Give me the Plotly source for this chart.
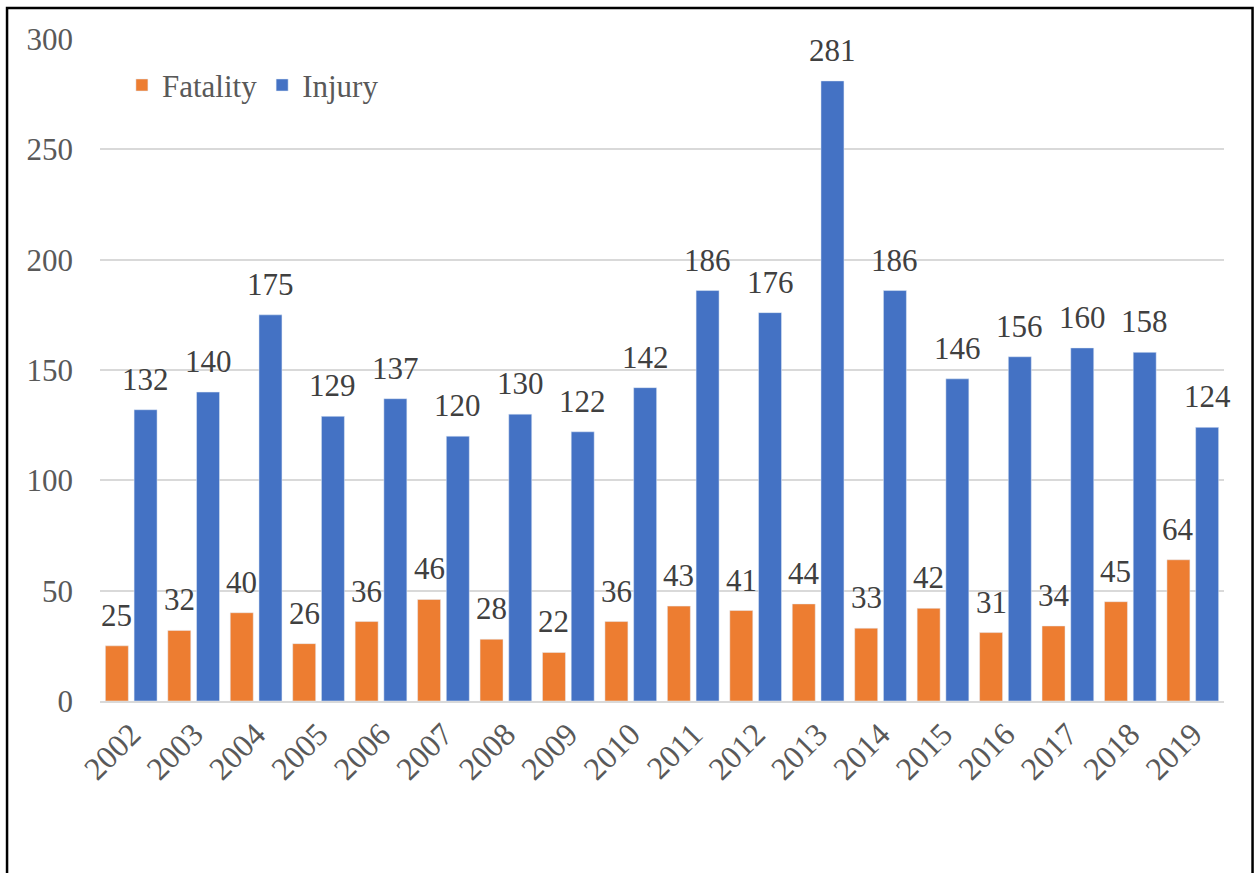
import plotly.graph_objects as go

years = [str(y) for y in range(2002, 2020)]
fatality = [25, 32, 40, 26, 36, 46, 28, 22, 36, 43, 41, 44, 33, 42, 31, 34, 45, 64]
injury = [132, 140, 175, 129, 137, 120, 130, 122, 142, 186, 176, 281, 186, 146, 156, 160, 158, 124]
y_ticks = [0, 50, 100, 150, 200, 250, 300]

FONT = "Liberation Serif"
FS = 31
fig = go.Figure()
fig.add_trace(go.Bar(x=years, y=fatality, name="Fatality", marker_color="#ED7D31"))
fig.add_trace(go.Bar(x=years, y=injury, name="Injury", marker_color="#4472C4"))

annotations = []
for series, xshift in ((fatality, -14.35), (injury, 14.35)):
    for i, v in enumerate(series):
        annotations.append(dict(
            x=i, y=v, xref="x", yref="y", text=str(v), showarrow=False,
            xanchor="center", yanchor="bottom", xshift=xshift, yshift=11,
            font=dict(family=FONT, size=FS, color="#404040"),
        ))

fig.update_layout(
    width=1259, height=873,
    margin=dict(l=100, r=35, t=39, b=172),
    paper_bgcolor="white", plot_bgcolor="white",
    barmode="group", bargap=0.08, bargroupgap=0.2,
    font=dict(family=FONT, color="#595959"),
    showlegend=True,
    legend=dict(
        orientation="h", x=0.0195, y=0.93, xanchor="left", yanchor="middle",
        font=dict(family=FONT, size=FS, color="#595959"),
        bgcolor="rgba(0,0,0,0)", itemwidth=30,
    ),
    xaxis=dict(
        type="category", categoryorder="array", categoryarray=years,
        range=[-0.5, len(years) - 0.5],
        tickangle=-45, tickfont=dict(family=FONT, size=32, color="#595959"),
        showgrid=False, showline=True, linecolor="#D9D9D9", linewidth=1.5, ticks="",
    ),
    yaxis=dict(
        range=[0, 300], tickvals=y_ticks, ticktext=[str(v) for v in y_ticks],
        tickfont=dict(family=FONT, size=FS, color="#595959"),
        showgrid=True, gridcolor="#D9D9D9", gridwidth=1.5, zeroline=False,
        showline=False, ticks="", ticklabelstandoff=26,
    ),
    annotations=annotations,
    shapes=[dict(
        type="rect", xref="paper", yref="paper",
        x0=-0.0827, x1=1.0254, y0=-0.3, y1=1.0468,
        line=dict(color="black", width=2.5), fillcolor="rgba(0,0,0,0)", layer="above",
    )],
)

fig.write_html("out.html")
